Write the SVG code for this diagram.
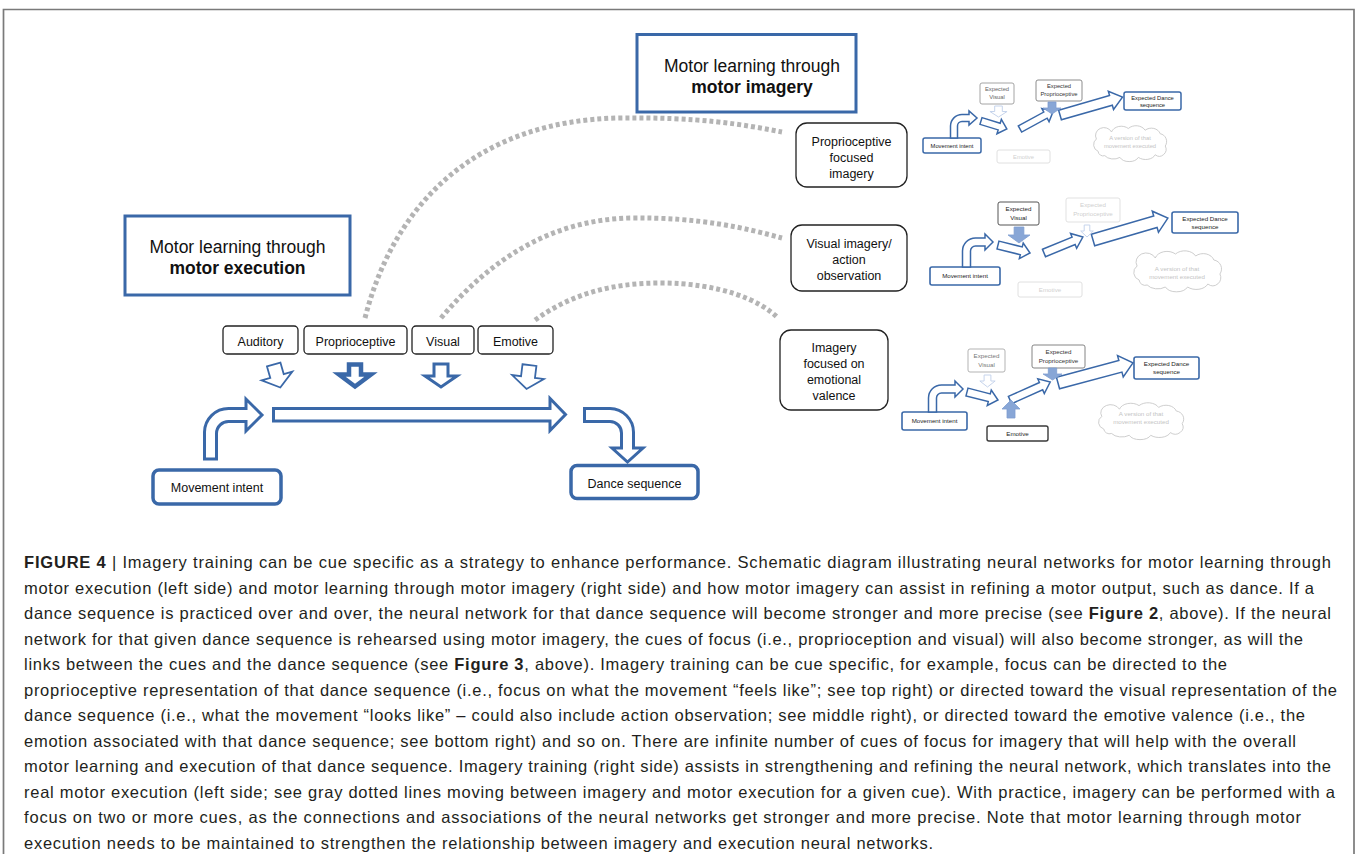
<svg xmlns="http://www.w3.org/2000/svg" xmlns:xlink="http://www.w3.org/1999/xlink" width="1355" height="854" viewBox="0 0 1355 854">
<style>
.t{font-family:"Liberation Sans",Arial,sans-serif}
.blue{fill:#fff;stroke:#3a68a8;stroke-linejoin:miter}
.cue{fill:#fff;stroke:#222;stroke-width:1.3}
.dot{fill:none;stroke:#b4b4b4;stroke-width:5;stroke-dasharray:4 3}
.lbl{font-size:12.5px;text-anchor:middle;fill:#111}
.ttl{font-size:17.5px;text-anchor:middle;fill:#111}
.s{font-size:5.8px;text-anchor:middle}
.sm{font-size:6.2px;text-anchor:middle}
.sa{fill:#fff;stroke:#3a68a8;stroke-width:1.5}
.fill{fill:#88a6d6;stroke:#7d9dd0;stroke-width:0.8}
.light{fill:#fff;stroke:#c6d4ec;stroke-width:1}
.cloud{fill:#fff;stroke:#c8c8c8;stroke-width:0.9}
.cap{font-size:16.5px;fill:#231f20}
</style>
<defs>
<path id="dn" d="M-4,0 H4 V6 H9 L0,12 L-9,6 H-4 Z" vector-effect="non-scaling-stroke"/>
<path id="cl" d="M12,30 A8,8 0 0 1 10,16 A10,9 0 0 1 28,8 A12,9 0 0 1 48,4 A12,9 0 0 1 68,6 A11,9 0 0 1 86,10 A9,9 0 0 1 92,24 A8,8 0 0 1 80,34 A12,8 0 0 1 60,37 A12,8 0 0 1 38,37 A12,8 0 0 1 20,35 A6,6 0 0 1 12,30 Z" vector-effect="non-scaling-stroke"/>
</defs>
<rect width="1355" height="854" fill="#fff"/>
<path d="M3.5,854 V9.5 H1354 V854" fill="none" stroke="#7a7a7a" stroke-width="1.7"/>

<g id="connectors">
<path class="dot" d="M365,318 C395,200 480,120 620,118 C700,117 740,124 782,132"/>
<path class="dot" d="M441,318 C490,260 550,220 630,218 C700,217 745,228 782,238"/>
<path class="dot" d="M535,320 C570,295 610,283 660,283 C720,283 760,300 778,318"/>
<path class="blue" stroke-width="3" d="M204.5,459 V432 A24,24 0 0 1 228.5,408.5 H246 V399 L262,415 L246,431 V421.5 H229 A12,12 0 0 0 216.5,433.5 V459 Z"/>
<path class="blue" stroke-width="3" d="M273.5,408.5 H550 V398.5 L565.5,414.5 L550,430.5 V421 H273.5 Z"/>
<path class="blue" stroke-width="3" d="M584.5,408.5 H610 A24,24 0 0 1 633.5,432 V448 H643 L627.5,462 L612,448 H621.5 V433 A11.5,11.5 0 0 0 610,421.5 H584.5 Z"/>
<path class="blue" stroke-width="1.8" transform="rotate(-16 277 376)" d="M270,364 H284 V376 H293 L277,388 L261,376 H270 Z"/>
<path class="blue" stroke-width="4.5" d="M349,364.5 H361 V374.5 H371 L355,386.5 L339,374.5 H349 Z"/>
<path class="blue" stroke-width="3" d="M434,364 H448 V376 H457 L441,387 L425,376 H434 Z"/>
<path class="blue" stroke-width="1.8" transform="rotate(7 528 377)" d="M521,365 H535 V377 H544 L528,389 L512,377 H521 Z"/>
</g>

<g id="title-execution">
<rect x="125" y="216" width="225" height="79" fill="#fff" stroke="#3a68a8" stroke-width="3"/>
<text class="t ttl" x="237.5" y="253">Motor learning through</text>
<text class="t ttl" x="237.5" y="274" font-weight="bold">motor execution</text>
</g>
<g id="title-imagery">
<rect x="637" y="34.5" width="219" height="77.5" fill="#fff" stroke="#3a68a8" stroke-width="3"/>
<text class="t ttl" x="752" y="72">Motor learning through</text>
<text class="t ttl" x="752" y="93" font-weight="bold">motor imagery</text>
</g>

<g id="cue-auditory"><rect class="cue" x="223" y="326" width="75" height="28" rx="4"/><text class="t lbl" x="260.5" y="346">Auditory</text></g>
<g id="cue-proprioceptive"><rect class="cue" x="304" y="326" width="103" height="28" rx="4"/><text class="t lbl" x="355.5" y="346">Proprioceptive</text></g>
<g id="cue-visual"><rect class="cue" x="412" y="326" width="62" height="28" rx="4"/><text class="t lbl" x="443" y="346">Visual</text></g>
<g id="cue-emotive"><rect class="cue" x="478" y="326" width="75" height="28" rx="4" stroke="#444"/><text class="t lbl" x="515.5" y="346">Emotive</text></g>

<g id="movement-intent"><rect x="153" y="470" width="128" height="34" rx="6" fill="#fff" stroke="#3a68a8" stroke-width="3.5"/><text class="t lbl" x="217" y="492">Movement intent</text></g>
<g id="dance-sequence"><rect x="571" y="465.5" width="127" height="33" rx="6" fill="#fff" stroke="#3a68a8" stroke-width="3.5"/><text class="t lbl" x="634.5" y="488">Dance sequence</text></g>

<g id="prop-imagery"><rect class="cue" x="796" y="123" width="111" height="64" rx="11"/>
<text class="t lbl" x="851.5" y="146">Proprioceptive</text><text class="t lbl" x="851.5" y="162">focused</text><text class="t lbl" x="851.5" y="178">imagery</text></g>
<g id="visual-imagery"><rect class="cue" x="791" y="225" width="116" height="66" rx="11"/>
<text class="t lbl" x="849" y="247.5">Visual imagery/</text><text class="t lbl" x="849" y="263.5">action</text><text class="t lbl" x="849" y="279.5">observation</text></g>
<g id="emotional-imagery"><rect class="cue" x="780" y="330" width="108" height="80" rx="11"/>
<text class="t lbl" x="834" y="352">Imagery</text><text class="t lbl" x="834" y="368">focused on</text><text class="t lbl" x="834" y="384">emotional</text><text class="t lbl" x="834" y="400">valence</text></g>

<g id="net-top">
<use href="#cl" class="cloud" transform="translate(1088,125) scale(0.84,0.875)"/>
<text class="t s" x="1130" y="140" fill="#c4c4c4">A version of that</text>
<text class="t s" x="1130" y="148" fill="#c4c4c4">movement executed</text>
<rect x="980" y="83" width="34" height="21" rx="2" fill="#fff" stroke="#9a9a9a" stroke-width="0.9"/>
<text class="t s" x="997" y="91" fill="#666">Expected</text><text class="t s" x="997" y="99" fill="#666">Visual</text>
<rect x="1036" y="80" width="46" height="21" rx="2" fill="#fff" stroke="#808080" stroke-width="0.9"/>
<text class="t s" x="1059" y="88" fill="#333">Expected</text><text class="t s" x="1059" y="96" fill="#333">Proprioceptive</text>
<rect x="1124" y="92" width="57" height="18" rx="2" fill="#fff" stroke="#3a68a8" stroke-width="1.5"/>
<text class="t s" x="1152.5" y="99.5" fill="#222">Expected Dance</text><text class="t s" x="1152.5" y="106.5" fill="#222">sequence</text>
<rect x="923" y="138" width="58" height="15" rx="2" fill="#fff" stroke="#3a68a8" stroke-width="1.5"/>
<text class="t s" x="952" y="147.5" fill="#222">Movement intent</text>
<rect x="997" y="150" width="53" height="13" rx="2" fill="#fff" stroke="#dcdcdc" stroke-width="0.9"/>
<text class="t s" x="1023.5" y="158.5" fill="#d0d0d0">Emotive</text>
<path class="sa" d="M950.5,138 V126 A11.5,11.5 0 0 1 962,114.5 H969 V111 L977,118 L969,125 V121.5 H962 A4.5,4.5 0 0 0 957.5,126 V138 Z"/>
<path class="sa" transform="translate(981,121) rotate(17)" d="M0,-3.5 H19 V-7.5 L27,0 L19,7.5 V3.5 H0 Z"/>
<path class="sa" transform="translate(1020,129) rotate(-28.6)" d="M0,-3.5 H29 V-7.5 L38,0 L29,7.5 V3.5 H0 Z"/>
<path class="sa" transform="translate(1060,115) rotate(-16)" d="M0,-5 H53 V-9.5 L65,0 L53,9.5 V5 H0 Z"/>
<use href="#dn" class="light" transform="translate(998.5,106) scale(0.95,0.92)"/>
<use href="#dn" class="fill" transform="translate(1052,102) scale(1,1)"/>
</g>

<g id="net-middle">
<use href="#cl" class="cloud" transform="translate(1127,250) scale(1.01,1)"/>
<text class="t sm" x="1177" y="271" fill="#c4c4c4">A version of that</text>
<text class="t sm" x="1177" y="279" fill="#c4c4c4">movement executed</text>
<rect x="998" y="202" width="41" height="23" rx="2" fill="#fff" stroke="#555" stroke-width="1"/>
<text class="t sm" x="1018.5" y="211" fill="#222">Expected</text><text class="t sm" x="1018.5" y="220" fill="#222">Visual</text>
<rect x="1066" y="198" width="54" height="24" rx="2" fill="#fff" stroke="#dedede" stroke-width="0.9"/>
<text class="t sm" x="1093" y="207" fill="#cfcfcf">Expected</text><text class="t sm" x="1093" y="215.5" fill="#cfcfcf">Proprioceptive</text>
<rect x="1172" y="212" width="66" height="21" rx="2" fill="#fff" stroke="#3a68a8" stroke-width="1.6"/>
<text class="t sm" x="1205" y="221" fill="#222">Expected Dance</text><text class="t sm" x="1205" y="229" fill="#222">sequence</text>
<rect x="930" y="267" width="70" height="18" rx="2" fill="#fff" stroke="#3a68a8" stroke-width="1.6"/>
<text class="t sm" x="965" y="278" fill="#222">Movement intent</text>
<rect x="1018" y="282" width="64" height="15" rx="2" fill="#fff" stroke="#dcdcdc" stroke-width="0.9"/>
<text class="t sm" x="1050" y="291.5" fill="#d0d0d0">Emotive</text>
<path class="sa" d="M962.5,267 V251 A13,13 0 0 1 975.5,238 H985 V234 L993,242 L985,250 V246 H975.5 A5,5 0 0 0 970.5,251 V267 Z"/>
<path class="sa" transform="translate(998,245) rotate(14)" d="M0,-4 H24 V-8 L33,0 L24,8 V4 H0 Z"/>
<path class="sa" transform="translate(1044,253) rotate(-22.3)" d="M0,-4 H32 V-8 L42,0 L32,8 V4 H0 Z"/>
<path class="sa" transform="translate(1093,240) rotate(-16.3)" d="M0,-6 H65 V-11 L78,0 L65,11 V6 H0 Z"/>
<use href="#dn" class="fill" transform="translate(1019,227) scale(1.22,1.33)"/>
<use href="#dn" class="light" transform="translate(1087,225) scale(0.7,1)"/>
</g>

<g id="net-bottom">
<use href="#cl" class="cloud" transform="translate(1092,402) scale(0.98,0.9)"/>
<text class="t sm" x="1141" y="416" fill="#c4c4c4">A version of that</text>
<text class="t sm" x="1141" y="424" fill="#c4c4c4">movement executed</text>
<rect x="968" y="349" width="37" height="23" rx="2" fill="#fff" stroke="#aaa" stroke-width="0.9"/>
<text class="t sm" x="986.5" y="358" fill="#777">Expected</text><text class="t sm" x="986.5" y="367" fill="#777">Visual</text>
<rect x="1032" y="345" width="53" height="23" rx="2" fill="#fff" stroke="#777" stroke-width="0.9"/>
<text class="t sm" x="1058.5" y="354" fill="#333">Expected</text><text class="t sm" x="1058.5" y="362.5" fill="#333">Proprioceptive</text>
<rect x="1134" y="357" width="65" height="22" rx="2" fill="#fff" stroke="#3a68a8" stroke-width="1.6"/>
<text class="t sm" x="1166.5" y="366" fill="#222">Expected Dance</text><text class="t sm" x="1166.5" y="374" fill="#222">sequence</text>
<rect x="902" y="412" width="65" height="18" rx="2" fill="#fff" stroke="#3a68a8" stroke-width="1.6"/>
<text class="t sm" x="934.5" y="423" fill="#222">Movement intent</text>
<rect x="987" y="426" width="61" height="15" rx="2" fill="#fff" stroke="#3a3a3a" stroke-width="1.4"/>
<text class="t sm" x="1017.5" y="435.5" fill="#222">Emotive</text>
<path class="sa" d="M928.5,412 V398 A13,13 0 0 1 941.5,385 H955 V381 L963,389 L955,397 V393 H941.5 A5,5 0 0 0 936.5,398 V412 Z"/>
<path class="sa" transform="translate(967,392) rotate(14.5)" d="M0,-4 H23 V-8 L32,0 L23,8 V4 H0 Z"/>
<path class="sa" transform="translate(1010,400) rotate(-24)" d="M0,-4 H34 V-8 L44,0 L34,8 V4 H0 Z"/>
<path class="sa" transform="translate(1058,383) rotate(-15)" d="M0,-6 H64.6 V-11 L77.6,0 L64.6,11 V6 H0 Z"/>
<use href="#dn" class="light" transform="translate(987.5,375) scale(0.85,1)"/>
<use href="#dn" class="fill" transform="translate(1052.5,368) scale(1.05,1)"/>
<use href="#dn" class="fill" transform="translate(1011,418) scale(1,-1.5)"/>
</g>

<g id="caption" class="t cap">
<text x="24" y="568" textLength="1307" lengthAdjust="spacing"><tspan font-weight="bold">FIGURE 4</tspan> | Imagery training can be cue specific as a strategy to enhance performance. Schematic diagram illustrating neural networks for motor learning through</text>
<text x="24" y="593.5" textLength="1290" lengthAdjust="spacing">motor execution (left side) and motor learning through motor imagery (right side) and how motor imagery can assist in refining a motor output, such as dance. If a</text>
<text x="24" y="619" textLength="1307" lengthAdjust="spacing">dance sequence is practiced over and over, the neural network for that dance sequence will become stronger and more precise (see <tspan font-weight="bold">Figure 2</tspan>, above). If the neural</text>
<text x="24" y="644.5" textLength="1279" lengthAdjust="spacing">network for that given dance sequence is rehearsed using motor imagery, the cues of focus (i.e., proprioception and visual) will also become stronger, as will the</text>
<text x="24" y="670" textLength="1203" lengthAdjust="spacing">links between the cues and the dance sequence (see <tspan font-weight="bold">Figure 3</tspan>, above). Imagery training can be cue specific, for example, focus can be directed to the</text>
<text x="24" y="695.5" textLength="1313" lengthAdjust="spacing">proprioceptive representation of that dance sequence (i.e., focus on what the movement “feels like”; see top right) or directed toward the visual representation of the</text>
<text x="24" y="721" textLength="1281" lengthAdjust="spacing">dance sequence (i.e., what the movement “looks like” – could also include action observation; see middle right), or directed toward the emotive valence (i.e., the</text>
<text x="24" y="746.5" textLength="1272" lengthAdjust="spacing">emotion associated with that dance sequence; see bottom right) and so on. There are infinite number of cues of focus for imagery that will help with the overall</text>
<text x="24" y="772" textLength="1307" lengthAdjust="spacing">motor learning and execution of that dance sequence. Imagery training (right side) assists in strengthening and refining the neural network, which translates into the</text>
<text x="24" y="797.5" textLength="1311" lengthAdjust="spacing">real motor execution (left side; see gray dotted lines moving between imagery and motor execution for a given cue). With practice, imagery can be performed with a</text>
<text x="24" y="823" textLength="1277" lengthAdjust="spacing">focus on two or more cues, as the connections and associations of the neural networks get stronger and more precise. Note that motor learning through motor</text>
<text x="24" y="848.5" textLength="909" lengthAdjust="spacing">execution needs to be maintained to strengthen the relationship between imagery and execution neural networks.</text>
</g>
</svg>
